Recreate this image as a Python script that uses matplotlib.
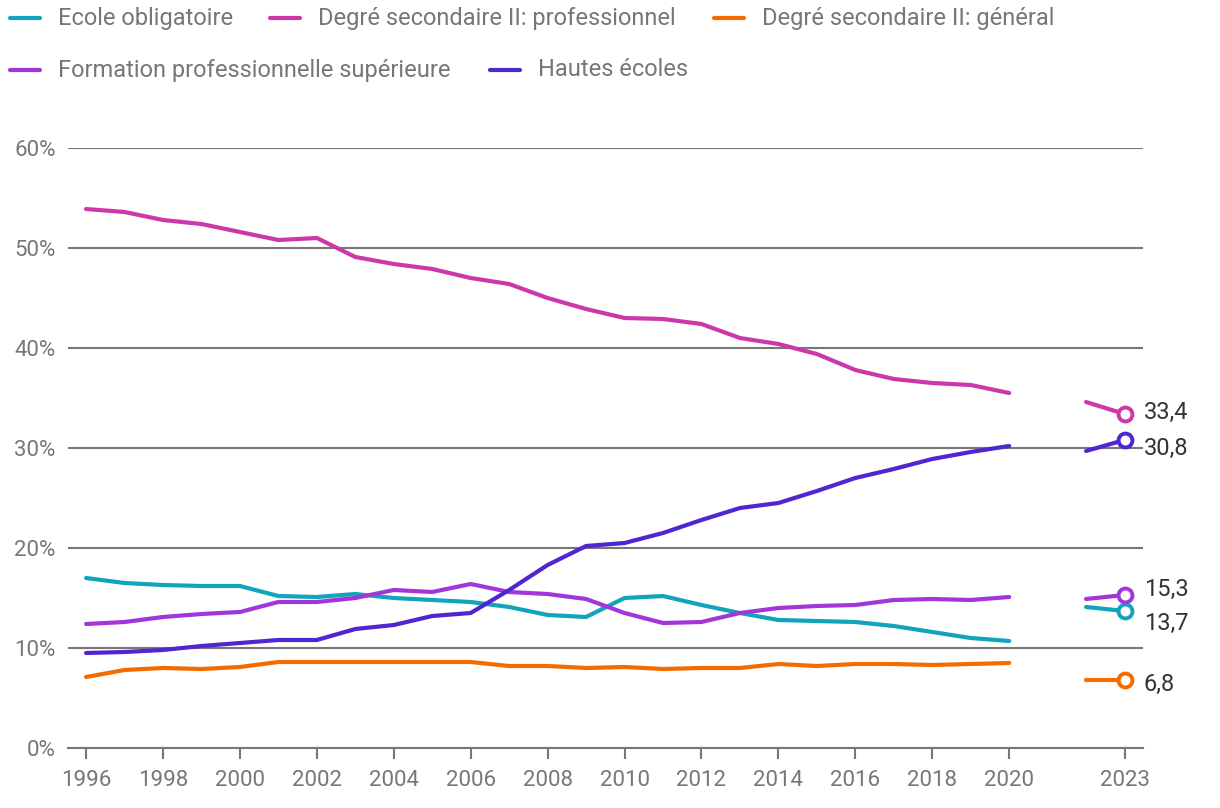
import numpy as np
import matplotlib
matplotlib.use("Agg")
import matplotlib.pyplot as plt
from matplotlib.lines import Line2D

plt.rcParams['font.family'] = ['Roboto', 'DejaVu Sans']

# data (share in %)
years = list(range(1996, 2021))
years_recent = [2022, 2023]

series_names = [
    "Ecole obligatoire",
    "Degré secondaire II: professionnel",
    "Degré secondaire II: général",
    "Formation professionnelle supérieure",
    "Hautes écoles",
]

ecole_obl = [17.0, 16.5, 16.3, 16.2, 16.2, 15.2, 15.1, 15.4, 15.0, 14.8, 14.6, 14.1, 13.3,
             13.1, 15.0, 15.2, 14.3, 13.5, 12.8, 12.7, 12.6, 12.2, 11.6, 11.0, 10.7]
sec_pro = [53.9, 53.6, 52.8, 52.4, 51.6, 50.8, 51.0, 49.1, 48.4, 47.9, 47.0, 46.4, 45.0,
           43.9, 43.0, 42.9, 42.4, 41.0, 40.4, 39.4, 37.8, 36.9, 36.5, 36.3, 35.5]
sec_gen = [7.1, 7.8, 8.0, 7.9, 8.1, 8.6, 8.6, 8.6, 8.6, 8.6, 8.6, 8.2, 8.2,
           8.0, 8.1, 7.9, 8.0, 8.0, 8.4, 8.2, 8.4, 8.4, 8.3, 8.4, 8.5]
form_sup = [12.4, 12.6, 13.1, 13.4, 13.6, 14.6, 14.6, 15.0, 15.8, 15.6, 16.4, 15.6, 15.4,
            14.9, 13.5, 12.5, 12.6, 13.5, 14.0, 14.2, 14.3, 14.8, 14.9, 14.8, 15.1]
hautes = [9.5, 9.6, 9.8, 10.2, 10.5, 10.8, 10.8, 11.9, 12.3, 13.2, 13.5, 15.8, 18.3,
          20.2, 20.5, 21.5, 22.8, 24.0, 24.5, 25.7, 27.0, 27.9, 28.9, 29.6, 30.2]

ecole_obl_recent = [14.1, 13.7]
sec_pro_recent = [34.6, 33.4]
sec_gen_recent = [6.8, 6.8]
form_sup_recent = [14.9, 15.3]
hautes_recent = [29.7, 30.8]

main_series = [ecole_obl, sec_pro, sec_gen, form_sup, hautes]
recent_series = [ecole_obl_recent, sec_pro_recent, sec_gen_recent, form_sup_recent, hautes_recent]

colors = ["#12a4ba", "#cc37aa", "#f46c00", "#a236db", "#5025d2"]
# vertical nudge of the end labels (points), to keep them apart
label_dy = [-9, 1, -3, 4, -6]

GRID = "#777777"
TEXT = "#777777"

fig = plt.figure(figsize=(12.2, 8.08), dpi=100)
ax = fig.add_axes([68 / 1220, 1 - 748 / 808, 1075 / 1220, 600 / 808])

for vals, rec, col, dy in zip(main_series, recent_series, colors, label_dy):
    ax.plot(years, vals, color=col, lw=3, solid_capstyle="round", zorder=3)
    ax.plot(years_recent, rec, color=col, lw=3, solid_capstyle="round", zorder=3)
    ax.plot(years_recent[-1], rec[-1], marker="o", ms=10, mfc="white", mec=col, mew=2.8, zorder=4)
    ax.annotate(f"{rec[-1]:.1f}".replace(".", ","), (years_recent[-1], rec[-1]),
                xytext=(14, dy), textcoords="offset points", ha="left", va="center",
                fontsize=17, color="#333333", zorder=5)

ax.set_xlim(1995.53, 2023.48)
ax.set_ylim(0, 60)
ax.set_yticks(range(0, 70, 10))
ax.set_yticklabels([f"{v}%" for v in range(0, 70, 10)])
ax.yaxis.grid(True, color=GRID, lw=1.5)
ax.set_axisbelow(True)

xt = list(range(1996, 2021, 2)) + [2023]
ax.set_xticks(xt)
ax.set_xticklabels([str(x) for x in xt])

for s in ["top", "right", "left"]:
    ax.spines[s].set_visible(False)
ax.spines["bottom"].set_color(GRID)
ax.spines["bottom"].set_linewidth(1.5)
ax.tick_params(axis="y", length=0, pad=9, labelsize=16, labelcolor=TEXT)
ax.tick_params(axis="x", length=8, width=1.5, color=GRID, pad=8, labelsize=16, labelcolor=TEXT)

# legend laid out as in the reference (flow, two rows)
legend_pos = [(10, 18), (270, 18), (714, 18), (10, 70), (490, 70)]
for name, col, (px, py) in zip(series_names, colors, legend_pos):
    fy = 1 - py / 808
    fig.add_artist(Line2D([px / 1220, (px + 30) / 1220], [fy, fy], color=col, lw=3,
                          solid_capstyle="round", transform=fig.transFigure))
    fig.text((px + 48) / 1220, fy, name, ha="left", va="center", fontsize=17, color=TEXT)

fig.savefig("out.png", dpi=100)
